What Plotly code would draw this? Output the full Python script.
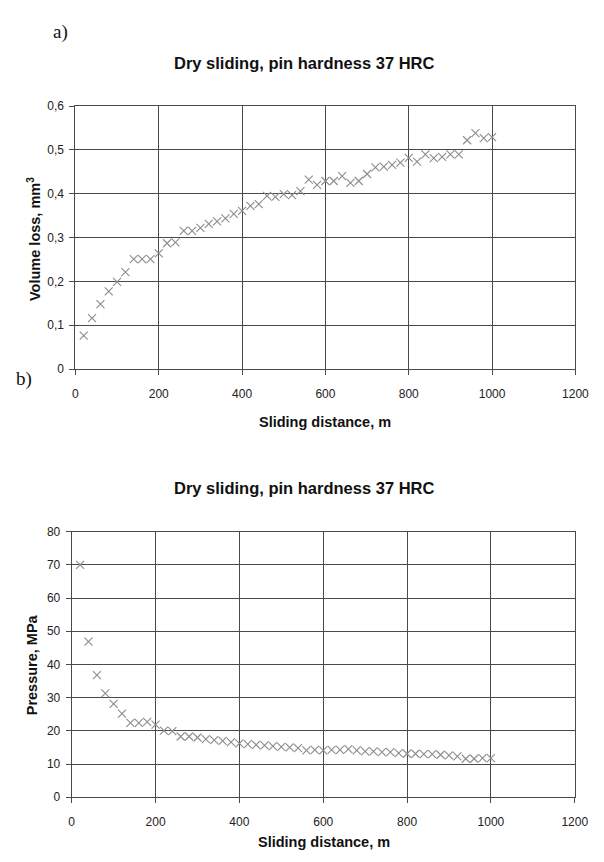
import plotly.graph_objects as go

distance = [20, 40, 60, 80, 100, 120, 140, 160, 180, 200,
            220, 240, 260, 280, 300, 320, 340, 360, 380, 400,
            420, 440, 460, 480, 500, 520, 540, 560, 580, 600,
            620, 640, 660, 680, 700, 720, 740, 760, 780, 800,
            820, 840, 860, 880, 900, 920, 940, 960, 980, 1000]

volume_loss = [0.076, 0.116, 0.148, 0.177, 0.199, 0.221, 0.251, 0.251, 0.251, 0.264,
               0.287, 0.289, 0.315, 0.315, 0.322, 0.331, 0.337, 0.344, 0.354, 0.361,
               0.372, 0.376, 0.395, 0.393, 0.399, 0.397, 0.406, 0.432, 0.420, 0.429,
               0.429, 0.440, 0.425, 0.429, 0.445, 0.460, 0.462, 0.466, 0.471, 0.482,
               0.473, 0.490, 0.481, 0.484, 0.490, 0.490, 0.522, 0.538, 0.527, 0.529]

pressure = [70.0, 46.9, 36.8, 31.3, 28.1, 25.2, 22.4, 22.4, 22.7, 21.9,
            20.1, 19.9, 18.3, 18.3, 18.0, 17.5, 17.2, 17.0, 16.6, 16.2,
            16.0, 15.8, 15.6, 15.4, 15.2, 15.0, 14.8, 14.1, 14.3, 14.1,
            14.3, 14.3, 14.5, 14.1, 13.8, 13.8, 13.6, 13.6, 13.3, 13.1,
            13.1, 13.0, 13.0, 12.8, 12.6, 12.3, 11.6, 11.6, 11.8, 11.8]

x_ticks = [0, 200, 400, 600, 800, 1000, 1200]
vol_ticks = [0, 0.1, 0.2, 0.3, 0.4, 0.5, 0.6]
vol_tick_text = ["0", "0,1", "0,2", "0,3", "0,4", "0,5", "0,6"]
pres_ticks = [0, 10, 20, 30, 40, 50, 60, 70, 80]

title_text = "Dry sliding, pin hardness 37 HRC"

W, H = 604, 862

GRID = "#4a4a4a"
MARK = "#8c8c8c"
FONT = "Liberation Sans, Arial, sans-serif"

def px(x):
    return x / W

def py(y):
    return 1 - y / H

marker = dict(symbol="x-thin-open", size=8, line=dict(color=MARK, width=1.1), color=MARK)

fig = go.Figure()
fig.add_trace(go.Scatter(x=distance, y=volume_loss, mode="markers", marker=marker,
                         xaxis="x", yaxis="y", showlegend=False))
fig.add_trace(go.Scatter(x=distance, y=pressure, mode="markers", marker=marker,
                         xaxis="x2", yaxis="y2", showlegend=False))

axis_common = dict(showgrid=True, gridcolor=GRID, gridwidth=1, showline=True,
                   linecolor=GRID, linewidth=1, mirror=True, ticks="outside",
                   ticklen=5, tickcolor=GRID, zeroline=False,
                   ticklabeloverflow="allow",
                   tickfont=dict(family=FONT, size=12, color="#222"))

fig.update_layout(
    width=W, height=H, autosize=False,
    margin=dict(l=0, r=0, t=0, b=0),
    paper_bgcolor="white", plot_bgcolor="white",
    xaxis=dict(domain=[px(74.5), px(589)], range=[0, 1200], tickvals=x_ticks,
               anchor="y", ticklabelstandoff=9, **axis_common),
    yaxis=dict(domain=[py(368), py(100.7)], range=[0, 0.6], tickvals=vol_ticks,
               ticktext=vol_tick_text, anchor="x", ticklabelstandoff=3, **axis_common),
    xaxis2=dict(domain=[px(70.7), px(588.3)], range=[0, 1200], tickvals=x_ticks,
                anchor="y2", ticklabelstandoff=8, **axis_common),
    yaxis2=dict(domain=[py(803.3), py(533.3)], range=[0, 80], tickvals=pres_ticks,
                anchor="x2", ticklabelstandoff=3, **axis_common),
)

def ann(text, x, y, size, bold=True, angle=0, family=FONT):
    t = f"<b>{text}</b>" if bold else text
    fig.add_annotation(text=t, x=px(x), y=py(y), xref="paper", yref="paper",
                       xanchor="center", yanchor="middle", showarrow=False,
                       textangle=angle, font=dict(family=family, size=size, color="#111"))

ann("a)", 59, 25, 19, bold=False, family="Liberation Serif, Times New Roman, serif")
ann("b)", 22, 378, 19, bold=False, family="Liberation Serif, Times New Roman, serif")
ann(title_text, 309.7, 57, 16.5)
ann(title_text, 309.7, 489, 16.5)
ann("Sliding distance, m", 331.7, 422, 14.5)
ann("Sliding distance, m", 330, 849, 14.5)
ann("Volume loss, mm<sup>3</sup>", 31.7, 236, 14.5, angle=-90)
ann("Pressure, MPa", 30, 669, 14.5, angle=-90)

# remove the default page margin so the 604x862 figure fills the window exactly
fig.write_html(
    "out.html",
    config={"displayModeBar": False},
    post_script="document.body.style.margin='0';"
                "document.body.style.overflow='hidden';"
                "document.documentElement.style.overflow='hidden';",
)
